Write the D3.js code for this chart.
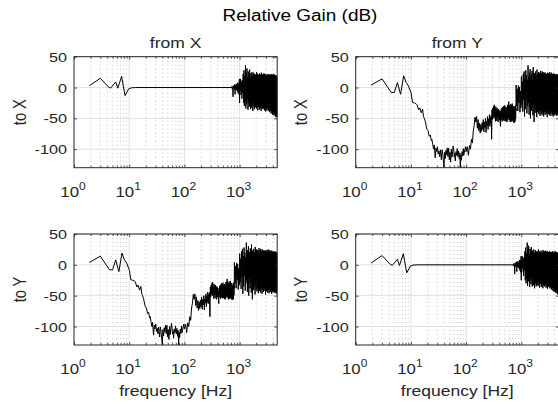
<!DOCTYPE html>
<html lang="en">
<head>
<meta charset="UTF-8">
<title>Relative Gain (dB)</title>
<script src="https://cdn.jsdelivr.net/npm/d3@7"></script>
<style>
  html, body { margin: 0; padding: 0; background: #fff; overflow: hidden; }
  svg { display: block; font-family: "Liberation Sans", Arial, Helvetica, sans-serif; }
</style>
</head>
<body>
<svg id="chart" width="558" height="406"></svg>
<script>
// ---- data ----
const mainTitle = "Relative Gain (dB)";
const colTitles = ["from X", "from Y"];
const rowLabels = ["to X", "to Y"];
const xLabel = "frequency [Hz]";
const xTicks = [1, 10, 100, 1000];
const xTickExp = ["0", "1", "2", "3"];
const yTicks = [-100, -50, 0, 50];
const xDomain = [1, 4800];
const yDomain = [-130, 50];

// same-axis response (from X to X, from Y to Y): [Hz, dB]
const directLow = [[1.9,3],[3.0,15],[4.2,1],[4.6,-1],[5.7,9],[6.2,-1],[7.3,18],[8.4,-13],[9.8,-2],[11,-0.5],[13,0],[700,0]];
// 700..1000 Hz, one value per 10 Hz
const directMid = [0,1,-1,2,-2,0,-15,3,-1,2,-3,5,-2,-11,4,1,-3,6,-4,2,-5,3,-6,8,-9,4,-3,7,-12,14,-25];
// 1000..4800 Hz, one value per 20 Hz
const directHigh = [8,-12,14,-6,10,-18,12,-9,22,-25,
  28,-30,19,-22,36,-34,24,-27,31,-19,17,-36,26,-24,21,-31,29,-20,15,-35,
  23,-28,18,-33,25,-21,20,-38,16,-26,24,-30,19,-35,22,-23,13,-32,21,-27,
  18,-34,25,-22,15,-29,22,-37,17,-25,20,-31,14,-28,23,-36,19,-24,16,-33,
  21,-26,17,-38,24,-30,13,-27,20,-34,18,-22,22,-35,15,-29,19,-32,23,-25,
  16,-37,21,-28,19,-33,14,-26,22,-39,17,-30,20,-24,18,-36,13,-31,21,-27,
  19,-34,15,-29,22,-38,17,-25,20,-32,14,-36,18,-28,21,-40,16,-30,19,-35,
  13,-27,20,-37,17,-31,22,-42,15,-29,19,-35,18,-39,14,-33,21,-44,16,-30,
  20,-36,15,-41,18,-32,22,-38,14,-45,19,-34,17,-40,21,-37,13,-43,18,-35,
  16,-46,19,-39,14,-42,20,-48,17,-37,15,-44,18,-47,13,-41,19,-45,16,-48,14];

// cross-axis response (from Y to X, from X to Y): [Hz, dB]
const crossLow = [[1.9,4],[3.0,14],[4.4,-8],[5.0,-8],[5.7,8],[6.5,-11],[7.4,19],[8.2,8],[9.0,3],[10.1,-9],
  [10.7,-24],[11.5,-25],[12.3,-26],[12.9,-28],[13.8,-36],[14.5,-33],[15.4,-41],[16.3,-35],[16.9,-47],[17.5,-50],
  [18.2,-55],[18.9,-62],[19.6,-68],[20.5,-70],[21.5,-79],[22.5,-77],[23.4,-86],[24.0,-84],[24.8,-92],[25.8,-100],
  [26.5,-93],[27.6,-114],[28.5,-98],[29.4,-104],[30.3,-96],[31.2,-108],[32.2,-103],[33.2,-112],[34.2,-101],[35.6,-117],
  [36.8,-101],[38.0,-110],[39.8,-130],[40.8,-105],[42.0,-115],[43.1,-102],[44.3,-109],[45.5,-98],[46.9,-112],[48.3,-98],
  [49.6,-117],[51.0,-105],[52.5,-121],[54.0,-100],[55.5,-113],[57.0,-104],[58.2,-95],[59.5,-100],[61.0,-112],[62.3,-107],
  [63.7,-119],[65.5,-104],[67.5,-110],[69.0,-99],[70.0,-108],[71.5,-112],[73.0,-103],[75.5,-116],[77.0,-106],[78.5,-130],
  [80.5,-109],[82.0,-118],[83.0,-114],[84.5,-104],[86.5,-111],[89.0,-99],[90.5,-110],[92.0,-107],[95.0,-101],[97.6,-96]];
// 100..800 Hz, one value per 5 Hz
const crossMid = [-104,-96,-110,-94,-100,-84,-90,-70,-62,-48,-56,-47,-66,-52,-70,-58,-74,-60,-71,-57,
  -68,-52,-72,-56,-65,-50,-73,-55,-62,-47,-68,-51,-60,-44,-63,-48,-58,-45,-84,-36,
  -52,-33,-48,-30,-50,-28,-46,-35,-55,-31,-49,-36,-54,-33,-47,-38,-56,-35,-51,-40,
  -37,-53,-42,-57,-63,-38,-52,-34,-49,-37,-55,-32,-48,-36,-53,-30,-50,-35,-54,-31,
  -29,-51,-33,-54,-36,-50,-31,-55,-37,-52,-56,-34,-49,-28,-53,-35,-50,-30,-26,-23,
  -47,-32,-53,-29,-50,-34,-56,-30,-48,-27,-52,-33,-55,-29,-49,-32,-54,-26,-51,-31,
  -48,-35,-55,-30,-52,-33,-57,-36,-50,-38,-57,-34,-53,-30,-55,-36,-51,-29,-49,-33,-38];
// 800..4800 Hz, one value per 20 Hz
const crossHigh = [4,-30,-2,-38,3,-25,1,-40,-6,-33,
  18,-28,10,-39,22,-20,26,-47,14,-35,28,-18,20,-42,12,-30,36,-25,17,-44,
  24,-32,30,-50,15,-22,21,-38,27,-29,11,-45,33,-26,19,-56,23,-34,16,-41,
  26,-27,20,-36,13,-48,29,-31,22,-40,17,-24,25,-43,18,-33,24,-38,12,-46,
  21,-29,27,-37,16,-42,23,-30,19,-45,26,-28,14,-39,22,-34,18,-47,25,-31,
  17,-40,23,-26,20,-44,15,-33,24,-38,19,-29,22,-42,13,-35,21,-48,18,-30,
  24,-37,16,-43,20,-27,23,-39,14,-34,21,-45,19,-32,25,-41,17,-36,22,-28,
  15,-46,21,-33,18,-39,24,-30,16,-42,20,-35,13,-44,22,-31,19,-38,17,-47,
  23,-29,18,-40,14,-36,21,-43,19,-32,16,-45,22,-34,20,-39,15,-30,18,-42,
  21,-37,17,-44,19,-33,14,-40,22,-46,16,-35,20,-41,18,-38,15,-43,21,-36,
  17,-45,19,-39,16,-42,20,-37,14,-48,18];

// evenly spaced FFT bins -> [Hz, dB]
function bins(start, step, gains) {
  return gains.map((g, i) => [start + i * step, g]);
}
const directSeries = directLow.concat(bins(700, 10, directMid), bins(1000, 20, directHigh));
const crossSeries = crossLow.concat(bins(100, 5, crossMid), bins(805, 20, crossHigh));

// ---- layout ----
const SX = 1.2;               // the reference is stretched sideways, text too
const colLeft = [74, 355.7];
const rowTop = [56.7, 234];
const pw = 203.2, ph = 111;
const ink = "#262626";

const panels = [
  { c: 0, r: 0, data: directSeries },
  { c: 1, r: 0, data: crossSeries },
  { c: 0, r: 1, data: crossSeries },
  { c: 1, r: 1, data: directSeries }
];

const svg = d3.select("#chart");

function label(sel, x, y, str, size, anchor) {
  return sel.append("text")
    .attr("transform", `translate(${x},${y}) scale(${SX},1)`)
    .attr("font-size", size)
    .attr("text-anchor", anchor)
    .attr("fill", ink)
    .text(str);
}

const x = d3.scaleLog().domain(xDomain).range([0, pw]);
const y = d3.scaleLinear().domain(yDomain).range([ph, 0]);

// minor positions 2..9 per decade inside the domain
const minorTicks = [];
xTicks.forEach(d => { for (let k = 2; k <= 9; k++) if (d * k <= xDomain[1]) minorTicks.push(d * k); });

const line = d3.line().x(d => x(d[0])).y(d => y(d[1]));

panels.forEach((p, i) => {
  const g = svg.append("g").attr("transform", `translate(${colLeft[p.c]},${rowTop[p.r]})`);

  g.append("clipPath").attr("id", "clip" + i)
    .append("rect").attr("width", pw).attr("height", ph);

  // grid
  g.selectAll(".minor").data(minorTicks).join("line")
    .attr("x1", d => x(d)).attr("x2", d => x(d))
    .attr("y1", 0).attr("y2", ph)
    .attr("stroke", "#b8b8b8").attr("stroke-width", 0.8)
    .attr("stroke-dasharray", "1,3");
  g.selectAll(".vmaj").data(xTicks.slice(1)).join("line")
    .attr("x1", d => x(d)).attr("x2", d => x(d))
    .attr("y1", 0).attr("y2", ph)
    .attr("stroke", "#e0e0e0").attr("stroke-width", 1);
  g.selectAll(".hmaj").data(yTicks).join("line")
    .attr("x1", 0).attr("x2", pw)
    .attr("y1", d => y(d)).attr("y2", d => y(d))
    .attr("stroke", "#e0e0e0").attr("stroke-width", 1);

  // curve
  g.append("path").datum(p.data)
    .attr("clip-path", `url(#clip${i})`)
    .attr("fill", "none").attr("stroke", "#000")
    .attr("stroke-width", 1).attr("stroke-linejoin", "round")
    .attr("d", line);

  // ticks, pointing inward on all four sides
  const ax = [
    [d3.axisBottom(x).tickValues(xTicks).tickSize(-3), `translate(0,${ph})`],
    [d3.axisBottom(x).tickValues(minorTicks).tickSize(-2), `translate(0,${ph})`],
    [d3.axisTop(x).tickValues(xTicks).tickSize(-3), null],
    [d3.axisTop(x).tickValues(minorTicks).tickSize(-2), null],
    [d3.axisLeft(y).tickValues(yTicks).tickSize(-3), null],
    [d3.axisRight(y).tickValues(yTicks).tickSize(-3), `translate(${pw},0)`]
  ];
  ax.forEach(([a, t]) => {
    const s = g.append("g").call(a.tickFormat(""));
    if (t) s.attr("transform", t);
    s.select(".domain").remove();
    s.selectAll("line").attr("stroke", ink).attr("stroke-width", 0.8);
  });

  g.append("rect").attr("width", pw).attr("height", ph)
    .attr("fill", "none").attr("stroke", ink).attr("stroke-width", 1);

  // y tick labels
  yTicks.forEach(v => {
    label(g, -7, y(v) + 5, String(v), 13.5, "end");
  });

  // x tick labels 10^n
  xTicks.forEach((v, k) => {
    const t = g.append("text")
      .attr("transform", `translate(${x(v) - 1},${ph + 29}) scale(${SX},1)`)
      .attr("font-size", 14).attr("text-anchor", "middle").attr("fill", ink);
    t.append("tspan").text("10");
    t.append("tspan").attr("dy", -7).attr("font-size", 10).text(xTickExp[k]);
  });

  if (p.r === 0) label(g, pw / 2, -8.4, colTitles[p.c], 14.6, "middle");
  if (p.r === 1) label(g, pw / 2, ph + 50.5, xLabel, 14.6, "middle");

  g.append("text")
    .attr("transform", `translate(-48.5,${ph / 2}) scale(${SX},1) rotate(-90)`)
    .attr("font-size", 14.6).attr("text-anchor", "middle").attr("fill", ink)
    .text(rowLabels[p.r]);
});

svg.append("text")
  .attr("transform", `translate(300,20.7) scale(${SX},1)`)
  .attr("font-size", 15.8).attr("text-anchor", "middle").attr("fill", "#000")
  .text(mainTitle);
</script>
</body>
</html>
